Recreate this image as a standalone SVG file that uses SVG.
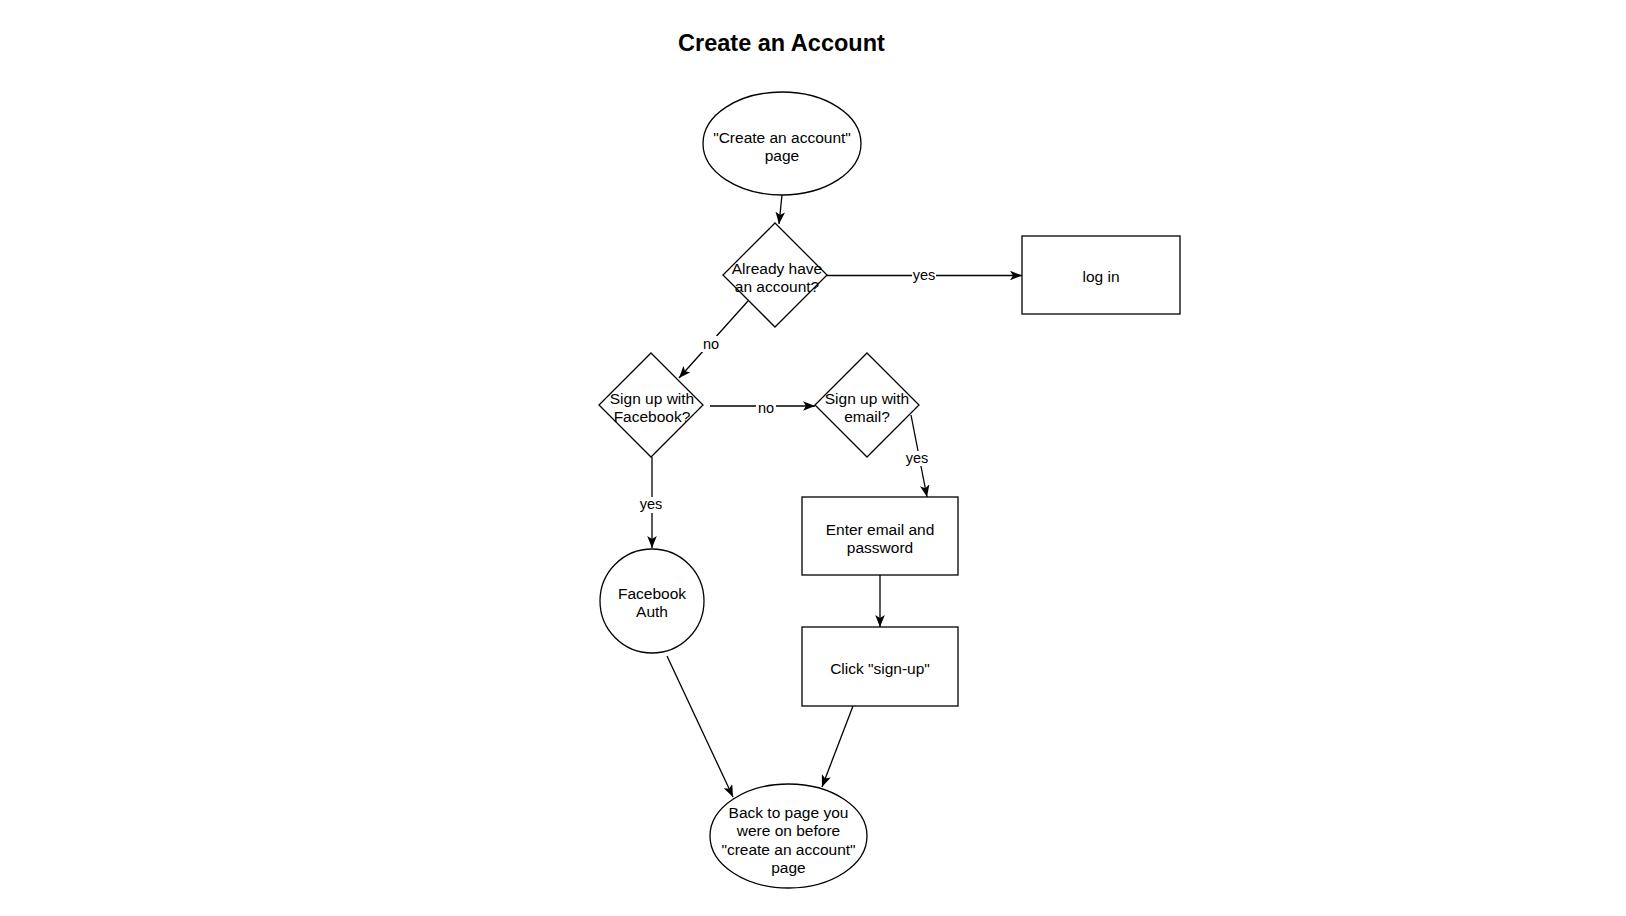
<svg xmlns="http://www.w3.org/2000/svg" width="1626" height="916" viewBox="0 0 1626 916">
  <style>
    .shape { fill: #ffffff; stroke: #000000; stroke-width: 1.3; }
    .edge { fill: none; stroke: #000000; stroke-width: 1.3; marker-end: url(#arrow); }
    .txt { font-family: "Liberation Sans", Arial, sans-serif; font-size: 15.5px; fill: #000000; text-anchor: middle; }
    .lbl { font-family: "Liberation Sans", Arial, sans-serif; font-size: 14.5px; fill: #000000; text-anchor: middle; }
    .lblbg { fill: #ffffff; stroke: none; }
    .title { font-family: "Liberation Sans", Arial, sans-serif; font-size: 23.5px; font-weight: bold; fill: #000000; text-anchor: middle; }
  </style>
  <defs>
    <marker id="arrow" viewBox="0 0 10 8" refX="10" refY="4" markerWidth="12" markerHeight="9.6" markerUnits="userSpaceOnUse" orient="auto">
      <path d="M0,0 L10,4 L0,8 L2.5,4 Z" fill="#000000"/>
    </marker>
  </defs>

  <rect width="1626" height="916" fill="#ffffff"/>

  <text class="title" x="781.5" y="50.5">Create an Account</text>

  <g id="connectors">
    <!-- start page to first decision -->
    <path class="edge" d="M782,195 L779,224"/>
    <!-- already have an account: yes -->
    <path class="edge" d="M827,275.5 L1022,275.5"/>
    <rect class="lblbg" x="912" y="268" width="24" height="14"/>
    <text class="lbl" x="924" y="280">yes</text>
    <!-- already have an account: no -->
    <path class="edge" d="M748,301 L679,378"/>
    <rect class="lblbg" x="700" y="336" width="22" height="16"/>
    <text class="lbl" x="711" y="349">no</text>
    <!-- facebook: no -->
    <path class="edge" d="M710,406 L815,406"/>
    <rect class="lblbg" x="756" y="400" width="20" height="14"/>
    <text class="lbl" x="766" y="413">no</text>
    <!-- facebook: yes -->
    <path class="edge" d="M652,457 L652,548"/>
    <rect class="lblbg" x="640" y="497" width="24" height="16"/>
    <text class="lbl" x="651" y="509">yes</text>
    <!-- email: yes -->
    <path class="edge" d="M911,415 L927,497"/>
    <rect class="lblbg" x="905" y="451" width="24" height="15"/>
    <text class="lbl" x="917" y="463">yes</text>
    <!-- enter credentials to sign-up -->
    <path class="edge" d="M880,575 L880,627"/>
    <!-- facebook auth to return page -->
    <path class="edge" d="M667,656 L733,797"/>
    <!-- sign-up to return page -->
    <path class="edge" d="M853,706 L822,787"/>
  </g>

  <g id="node-start">
    <ellipse class="shape" cx="782" cy="143.5" rx="79" ry="51.5"/>
    <text class="txt" x="782" y="142.5">"Create an account"</text>
    <text class="txt" x="782" y="161">page</text>
  </g>

  <g id="node-has-account">
    <polygon class="shape" points="775,223 827,275 775,327 723,275"/>
    <text class="txt" x="777" y="273.5">Already have</text>
    <text class="txt" x="777" y="291.5">an account?</text>
  </g>

  <g id="node-login">
    <rect class="shape" x="1022" y="236" width="158" height="78"/>
    <text class="txt" x="1101" y="282">log in</text>
  </g>

  <g id="node-facebook">
    <polygon class="shape" points="651,353 703,405 651,457 599,405"/>
    <text class="txt" x="652" y="403.5">Sign up with</text>
    <text class="txt" x="652" y="421.5">Facebook?</text>
  </g>

  <g id="node-email">
    <polygon class="shape" points="867,353 919,405 867,457 815,405"/>
    <text class="txt" x="867" y="403.5">Sign up with</text>
    <text class="txt" x="867" y="421.5">email?</text>
  </g>

  <g id="node-facebook-auth">
    <circle class="shape" cx="652" cy="601" r="52"/>
    <text class="txt" x="652" y="598.5">Facebook</text>
    <text class="txt" x="652" y="616.5">Auth</text>
  </g>

  <g id="node-enter-credentials">
    <rect class="shape" x="802" y="497" width="156" height="78"/>
    <text class="txt" x="880" y="534.5">Enter email and</text>
    <text class="txt" x="880" y="552.5">password</text>
  </g>

  <g id="node-sign-up">
    <rect class="shape" x="802" y="627" width="156" height="79"/>
    <text class="txt" x="880" y="673.5">Click "sign-up"</text>
  </g>

  <g id="node-return">
    <ellipse class="shape" cx="788.5" cy="836" rx="78.5" ry="52"/>
    <text class="txt" x="788.5" y="817.5">Back to page you</text>
    <text class="txt" x="788.5" y="836">were on before</text>
    <text class="txt" x="788.5" y="854.5">"create an account"</text>
    <text class="txt" x="788.5" y="873">page</text>
  </g>
</svg>
